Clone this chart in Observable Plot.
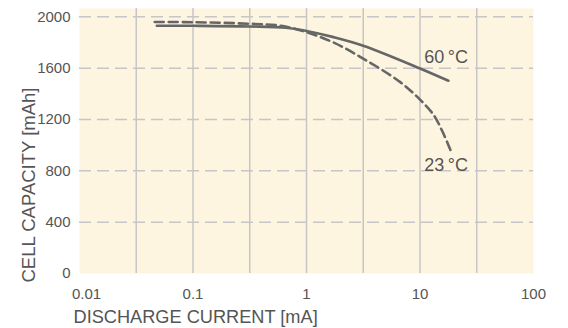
<!DOCTYPE html>
<html><head><meta charset="utf-8">
<script src="https://cdn.jsdelivr.net/npm/d3@7"></script>
<script src="https://cdn.jsdelivr.net/npm/@observablehq/plot@0.6"></script>
<style>
body{margin:0;background:#fff}
#chart svg{font-family:"Liberation Sans",Arial,sans-serif}
</style>
</head><body><div id="chart"></div>
<script>
// Discharge current [mA] vs cell capacity [mAh]
const current60 = [0.048, 0.1, 0.316, 0.66, 1, 1.73, 3.16, 10, 17.8];
const capacity60 = [1931, 1930, 1925, 1915, 1890, 1842, 1775, 1598, 1502];
const current23 = [0.046, 0.1, 0.316, 0.6, 1, 1.73, 3.16, 6.7, 10, 13.2, 15.7, 18.6];
const capacity23 = [1960, 1958, 1946, 1930, 1880, 1800, 1675, 1491, 1355, 1235, 1110, 960];

const xTickValues = [0.1, 1, 10, 100];
const xFirstTick = [0.01];
const xGridValues = [0.03162, 0.1, 0.3162, 1, 3.162, 10, 31.62];
const yTickValues = [0, 400, 800, 1200, 1600, 2000];
const yGridValues = [400, 800, 1200, 1600, 2000];

const seriesNames = ["60\u2009°C", "23\u2009°C"];
const labelCurrent = [10.9, 10.9];
const labelCapacity = [1687, 845];

const xTitle = "DISCHARGE CURRENT [mA]";
const yTitle = "CELL CAPACITY [mAh]";

const data60 = current60.map((c, i) => ({current: c, capacity: capacity60[i]}));
const data23 = current23.map((c, i) => ({current: c, capacity: capacity23[i]}));
const labels = seriesNames.map((t, i) => ({text: t, current: labelCurrent[i], capacity: labelCapacity[i]}));

const textColor = "#555";
const lineColor = "#666";
const gridColor = "#c6c6c6";

const chart = Plot.plot({
  width: 568,
  height: 328,
  marginLeft: 79,
  marginRight: 35,
  marginTop: 8,
  marginBottom: 55,
  style: {fontFamily: '"Liberation Sans", Arial, sans-serif', fontSize: "15px", color: textColor, background: "#fff", overflow: "visible"},
  x: {type: "log", domain: [0.01, 100]},
  y: {domain: [0, 2065]},
  marks: [
    Plot.frame({fill: "#fef5e1", stroke: null}),
    Plot.ruleX(xGridValues, {stroke: gridColor, strokeWidth: 1.5}),
    Plot.ruleY(yGridValues, {stroke: gridColor, strokeWidth: 1.5, strokeDasharray: "12,6"}),
    Plot.axisX({ticks: xTickValues, tickSize: 0, tickPadding: 15, tickFormat: d => String(d), label: null, fill: textColor}),
    Plot.axisX({ticks: xFirstTick, tickSize: 0, tickPadding: 15, tickFormat: d => String(d), label: null, fill: textColor, dx: 7}),
    Plot.axisY({ticks: yTickValues, tickSize: 0, tickPadding: 9, tickFormat: d => String(d), label: null, fill: textColor}),
    Plot.line(data23, {x: "current", y: "capacity", stroke: lineColor, strokeWidth: 2.6, strokeDasharray: "9,5", curve: "catmull-rom"}),
    Plot.line(data60, {x: "current", y: "capacity", stroke: lineColor, strokeWidth: 2.6, curve: "catmull-rom"}),
    Plot.text(labels, {x: "current", y: "capacity", text: "text", textAnchor: "start", lineAnchor: "middle", fontSize: 18, fill: textColor}),
    Plot.text([xTitle], {frameAnchor: "bottom-left", textAnchor: "start", lineAnchor: "middle", dx: -6, dy: 43.5, fontSize: 18.2, fill: textColor, style: "letter-spacing:0.3px"}),
    Plot.text([yTitle], {frameAnchor: "bottom-left", textAnchor: "start", lineAnchor: "middle", rotate: -90, dx: -50, dy: 9, fontSize: 18.5, fill: textColor, style: "letter-spacing:0.8px"})
  ]
});
document.getElementById("chart").appendChild(chart);
</script>
</body></html>
